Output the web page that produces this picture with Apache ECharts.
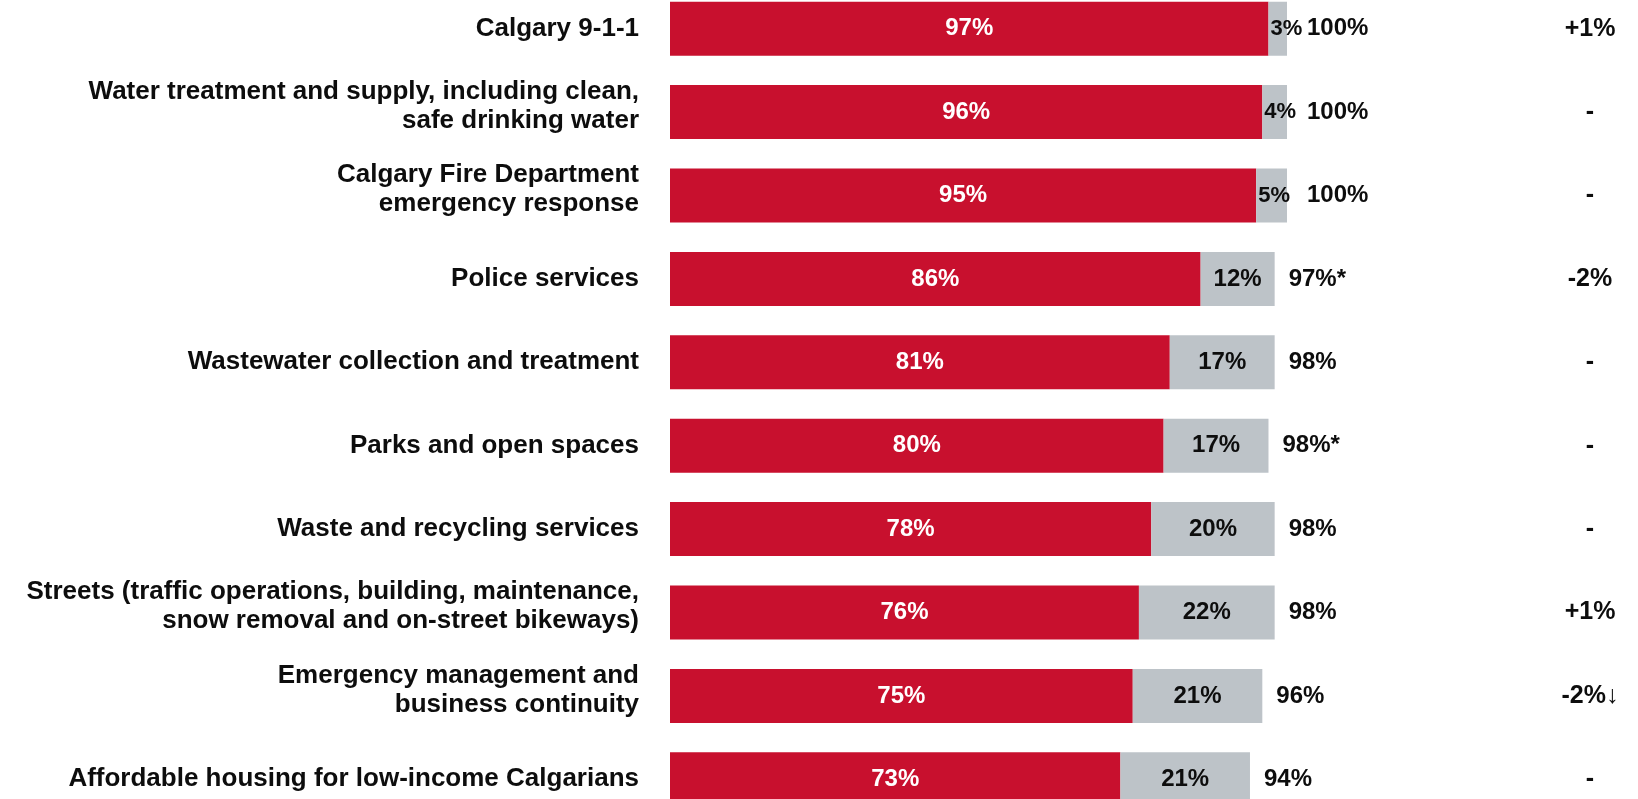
<!DOCTYPE html>
<html>
<head>
  <meta charset="utf-8" />
  <title>Service importance</title>
  <style>
    html, body { margin: 0; padding: 0; background: #fff; overflow: hidden; }
    /* chart is a bit taller than the window: the last row is cut at the bottom edge */
    #main { position: absolute; left: 0; top: -13px; width: 1638px; height: 834px; }
  </style>
  <script src="https://cdn.jsdelivr.net/npm/echarts@6/dist/echarts.min.js"></script>
</head>
<body>
  <div id="main"></div>
  <script type="text/javascript">
    // categories, top to bottom
    var services = [
      'Calgary 9-1-1',
      'Water treatment and supply, including clean,\nsafe drinking water',
      'Calgary Fire Department\nemergency response',
      'Police services',
      'Wastewater collection and treatment',
      'Parks and open spaces',
      'Waste and recycling services',
      'Streets (traffic operations, building, maintenance,\nsnow removal and on-street bikeways)',
      'Emergency management and\nbusiness continuity',
      'Affordable housing for low-income Calgarians'
    ];
    // very important (red) and somewhat important (grey), percent
    var veryImportant = [97, 96, 95, 86, 81, 80, 78, 76, 75, 73];
    var somewhatImportant = [3, 4, 5, 12, 17, 17, 20, 22, 21, 21];
    // total labels shown after each bar
    var totalLabels = ['100%', '100%', '100%', '97%*', '98%', '98%*', '98%', '98%', '96%', '94%'];
    // change vs. previous year, right column
    var changeLabels = ['+1%', '-', '-', '-2%', '-', '-', '-', '+1%', '-2%\u2193', '-'];

    var FONT = '"Liberation Sans", Arial, sans-serif';
    var INK = '#0d0d0d';

    var chart = echarts.init(document.getElementById('main'));

    // bar ends, so the total label sits just after the grey segment
    var barEnds = veryImportant.map(function (v, i) { return v + somewhatImportant[i]; });

    // thin grey segments: label starts at the left of the segment and spills out
    var greyItems = somewhatImportant.map(function (v) {
      return v < 10 ? { value: v, label: { position: 'insideLeft', distance: 2, fontSize: 22 } } : v;
    });

    // totals: a bit more room where the thin grey label spills past the bar
    var totalItems = barEnds.map(function (v, i) {
      var item = { value: [v, i] };
      if (somewhatImportant[i] < 10) item.label = { distance: 20 };
      return item;
    });

    // two-line labels sit slightly above the bar centre: an invisible spacer line below lifts them
    function serviceLabel(v) {
      var lines = v.split('\n');
      var text = lines.map(function (l) { return '{t|' + l + '}'; }).join('\n');
      return lines.length > 1 ? text + '\n{lift| }' : text;
    }

    var option = {
      animation: false,
      grid: { left: 670, right: 351, top: 0, bottom: 0, outerBoundsMode: 'none' },
      xAxis: {
        type: 'value',
        min: 0,
        max: 100,
        show: false
      },
      yAxis: [{
        type: 'category',
        data: services,
        inverse: true,
        axisLine: { show: false },
        axisTick: { show: false },
        splitLine: { show: false },
        axisLabel: {
          margin: 31,
          align: 'right',
          formatter: serviceLabel,
          rich: {
            t: {
              color: INK,
              fontFamily: FONT,
              fontWeight: 'bold',
              fontSize: 26,
              lineHeight: 29,
              align: 'right'
            },
            lift: { fontSize: 1, lineHeight: 12 }
          }
        }
      }, {
        type: 'category',
        data: changeLabels,
        inverse: true,
        position: 'right',
        axisLine: { show: false },
        axisTick: { show: false },
        splitLine: { show: false },
        axisLabel: {
          margin: 303,
          align: 'center',
          color: INK,
          fontFamily: FONT,
          fontWeight: 'bold',
          fontSize: 25
        }
      }],
      series: [{
        name: 'Very important',
        type: 'bar',
        stack: 'imp',
        barWidth: 54,
        data: veryImportant,
        itemStyle: { color: '#C8102E' },
        label: {
          show: true,
          position: 'inside',
          formatter: '{c}%',
          color: '#fff',
          fontFamily: FONT,
          fontWeight: 'bold',
          fontSize: 24
        }
      }, {
        name: 'Somewhat important',
        type: 'bar',
        stack: 'imp',
        barWidth: 54,
        data: greyItems,
        itemStyle: { color: '#BDC3C8' },
        label: {
          show: true,
          position: 'inside',
          formatter: '{c}%',
          color: INK,
          fontFamily: FONT,
          fontWeight: 'bold',
          fontSize: 24
        }
      }, {
        name: 'Total',
        type: 'scatter',
        symbolSize: 0,
        itemStyle: { opacity: 1 },
        data: totalItems,
        label: {
          show: true,
          position: 'right',
          distance: 14,
          formatter: function (p) { return totalLabels[p.dataIndex]; },
          color: INK,
          fontFamily: FONT,
          fontWeight: 'bold',
          fontSize: 24
        }
      }]
    };
    chart.setOption(option);
  </script>
</body>
</html>
